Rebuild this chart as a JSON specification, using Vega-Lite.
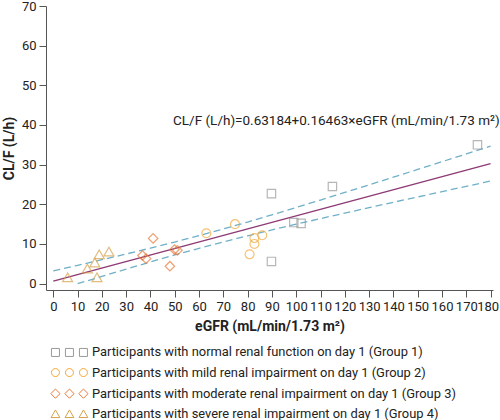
{
  "$schema": "https://vega.github.io/schema/vega-lite/v6.json",
  "autosize": {"type": "none"},
  "padding": {"left": 46, "top": 6, "right": 7, "bottom": 130},
  "width": 447,
  "height": 284,
  "background": "white",
  "config": {
    "font": "Roboto",
    "view": {"stroke": null},
    "axis": {
      "grid": false,
      "domainColor": "#555555",
      "tickColor": "#555555",
      "labelColor": "#222222",
      "titleColor": "#222222",
      "labelFontSize": 13,
      "titleFontSize": 14,
      "titleFontWeight": "bold",
      "tickSize": 7,
      "labelPadding": 3
    }
  },
  "datasets": {
    "points": [
      {"group": "Participants with normal renal function on day 1 (Group 1)", "egfr": 89.8, "clf": 22.7},
      {"group": "Participants with normal renal function on day 1 (Group 1)", "egfr": 89.8, "clf": 5.6},
      {"group": "Participants with normal renal function on day 1 (Group 1)", "egfr": 99.0, "clf": 15.4},
      {"group": "Participants with normal renal function on day 1 (Group 1)", "egfr": 102.0, "clf": 15.2},
      {"group": "Participants with normal renal function on day 1 (Group 1)", "egfr": 114.9, "clf": 24.5},
      {"group": "Participants with normal renal function on day 1 (Group 1)", "egfr": 174.6, "clf": 35.0},
      {"group": "Participants with mild renal impairment on day 1 (Group 2)", "egfr": 63.0, "clf": 12.7},
      {"group": "Participants with mild renal impairment on day 1 (Group 2)", "egfr": 74.8, "clf": 15.0},
      {"group": "Participants with mild renal impairment on day 1 (Group 2)", "egfr": 82.8, "clf": 11.5},
      {"group": "Participants with mild renal impairment on day 1 (Group 2)", "egfr": 86.0, "clf": 12.2},
      {"group": "Participants with mild renal impairment on day 1 (Group 2)", "egfr": 82.8, "clf": 10.0},
      {"group": "Participants with mild renal impairment on day 1 (Group 2)", "egfr": 80.8, "clf": 7.4},
      {"group": "Participants with moderate renal impairment on day 1 (Group 3)", "egfr": 36.7, "clf": 7.1},
      {"group": "Participants with moderate renal impairment on day 1 (Group 3)", "egfr": 38.2, "clf": 6.3},
      {"group": "Participants with moderate renal impairment on day 1 (Group 3)", "egfr": 41.1, "clf": 11.4},
      {"group": "Participants with moderate renal impairment on day 1 (Group 3)", "egfr": 48.0, "clf": 4.4},
      {"group": "Participants with moderate renal impairment on day 1 (Group 3)", "egfr": 49.9, "clf": 8.6},
      {"group": "Participants with moderate renal impairment on day 1 (Group 3)", "egfr": 51.1, "clf": 8.4},
      {"group": "Participants with severe renal impairment on day 1 (Group 4)", "egfr": 5.9, "clf": 1.6},
      {"group": "Participants with severe renal impairment on day 1 (Group 4)", "egfr": 14.0, "clf": 3.8},
      {"group": "Participants with severe renal impairment on day 1 (Group 4)", "egfr": 17.1, "clf": 5.3},
      {"group": "Participants with severe renal impairment on day 1 (Group 4)", "egfr": 18.9, "clf": 7.4},
      {"group": "Participants with severe renal impairment on day 1 (Group 4)", "egfr": 22.9, "clf": 8.1},
      {"group": "Participants with severe renal impairment on day 1 (Group 4)", "egfr": 18.0, "clf": 1.6}
    ],
    "fit": [
      {"egfr": 0, "clf": 0.632},
      {"egfr": 180, "clf": 30.266}
    ],
    "bands": [
      {"band": "upper", "egfr": 0, "clf": 3.23},
      {"band": "upper", "egfr": 10, "clf": 4.62},
      {"band": "upper", "egfr": 20, "clf": 6.03},
      {"band": "upper", "egfr": 30, "clf": 7.47},
      {"band": "upper", "egfr": 40, "clf": 8.96},
      {"band": "upper", "egfr": 50, "clf": 10.50},
      {"band": "upper", "egfr": 60, "clf": 12.11},
      {"band": "upper", "egfr": 70, "clf": 13.79},
      {"band": "upper", "egfr": 80, "clf": 15.54},
      {"band": "upper", "egfr": 90, "clf": 17.35},
      {"band": "upper", "egfr": 100, "clf": 19.20},
      {"band": "upper", "egfr": 110, "clf": 21.08},
      {"band": "upper", "egfr": 120, "clf": 22.99},
      {"band": "upper", "egfr": 130, "clf": 24.91},
      {"band": "upper", "egfr": 140, "clf": 26.85},
      {"band": "upper", "egfr": 150, "clf": 28.79},
      {"band": "upper", "egfr": 160, "clf": 30.75},
      {"band": "upper", "egfr": 170, "clf": 32.70},
      {"band": "upper", "egfr": 180, "clf": 34.67},
      {"band": "lower", "egfr": 10, "clf": 0.0},
      {"band": "lower", "egfr": 20, "clf": 1.82},
      {"band": "lower", "egfr": 30, "clf": 3.67},
      {"band": "lower", "egfr": 40, "clf": 5.48},
      {"band": "lower", "egfr": 50, "clf": 7.23},
      {"band": "lower", "egfr": 60, "clf": 8.91},
      {"band": "lower", "egfr": 70, "clf": 10.52},
      {"band": "lower", "egfr": 80, "clf": 12.06},
      {"band": "lower", "egfr": 90, "clf": 13.55},
      {"band": "lower", "egfr": 100, "clf": 14.99},
      {"band": "lower", "egfr": 110, "clf": 16.40},
      {"band": "lower", "egfr": 120, "clf": 17.79},
      {"band": "lower", "egfr": 130, "clf": 19.16},
      {"band": "lower", "egfr": 140, "clf": 20.51},
      {"band": "lower", "egfr": 150, "clf": 21.86},
      {"band": "lower", "egfr": 160, "clf": 23.20},
      {"band": "lower", "egfr": 170, "clf": 24.54},
      {"band": "lower", "egfr": 180, "clf": 25.87}
    ],
    "note": [
      {"egfr": 49.3, "clf": 41.0, "label": "CL/F (L/h)=0.63184+0.16463×eGFR (mL/min/1.73 m²)"}
    ]
  },
  "encoding": {
    "x": {
      "field": "egfr", "type": "quantitative",
      "scale": {"domain": [-3, 181], "nice": false, "zero": false},
      "axis": {"values": [0,10,20,30,40,50,60,70,80,90,100,110,120,130,140,150,160,170,180], "title": "eGFR (mL/min/1.73 m²)", "titlePadding": 6, "labelOverlap": false, "labelFlush": 5, "labelFlushOffset": 8}
    },
    "y": {
      "field": "clf", "type": "quantitative",
      "scale": {"domain": [-1.6, 70], "nice": false, "zero": false},
      "axis": {"values": [0,10,20,30,40,50,60,70], "title": "CL/F (L/h)", "titlePadding": 5}
    }
  },
  "layer": [
    {
      "data": {"name": "bands"},
      "mark": {"type": "line", "color": "#6fb0c8", "strokeWidth": 1.3, "strokeDash": [7, 4]},
      "encoding": {"detail": {"field": "band"}}
    },
    {
      "data": {"name": "fit"},
      "mark": {"type": "line", "color": "#8e3a74", "strokeWidth": 1.5},
      "encoding": {}
    },
    {
      "data": {"name": "note"},
      "mark": {"type": "text", "align": "left", "baseline": "middle", "fontSize": 13.5, "color": "#222222"},
      "encoding": {"text": {"field": "label"}}
    },
    {
      "data": {"name": "points"},
      "mark": {"type": "point", "filled": false, "strokeWidth": 1.2},
      "encoding": {
        "shape": {
          "field": "group", "type": "nominal",
          "scale": {
            "domain": [
              "Participants with normal renal function on day 1 (Group 1)",
              "Participants with mild renal impairment on day 1 (Group 2)",
              "Participants with moderate renal impairment on day 1 (Group 3)",
              "Participants with severe renal impairment on day 1 (Group 4)"
            ],
            "range": ["square", "circle", "diamond", "triangle-up"]
          },
          "legend": null
        },
        "color": {
          "field": "group", "type": "nominal",
          "scale": {
            "domain": [
              "Participants with normal renal function on day 1 (Group 1)",
              "Participants with mild renal impairment on day 1 (Group 2)",
              "Participants with moderate renal impairment on day 1 (Group 3)",
              "Participants with severe renal impairment on day 1 (Group 4)"
            ],
            "range": ["#999999", "#f2a93b", "#e67a3a", "#d6a24a"]
          },
          "legend": null
        },
        "size": {
          "field": "group", "type": "nominal",
          "scale": {
            "domain": [
              "Participants with normal renal function on day 1 (Group 1)",
              "Participants with mild renal impairment on day 1 (Group 2)",
              "Participants with moderate renal impairment on day 1 (Group 3)",
              "Participants with severe renal impairment on day 1 (Group 4)"
            ],
            "range": [70, 100, 120, 130]
          },
          "legend": null
        }
      }
    },
    {
      "data": {"name": "points"},
      "mark": {"type": "point", "filled": false, "opacity": 0},
      "encoding": {
        "shape": {
          "field": "group", "type": "nominal",
          "scale": {
            "domain": [
              "Participants with normal renal function on day 1 (Group 1)",
              "Participants with mild renal impairment on day 1 (Group 2)",
              "Participants with moderate renal impairment on day 1 (Group 3)",
              "Participants with severe renal impairment on day 1 (Group 4)"
            ],
            "range": [
              "M-4.5,-1H-2.5V1H-4.5Z M-1,-1H1V1H-1Z M2.5,-1H4.5V1H2.5Z",
              "M-2.5,0A1,1 0 1,1 -4.5,0A1,1 0 1,1 -2.5,0Z M1,0A1,1 0 1,1 -1,0A1,1 0 1,1 1,0Z M4.5,0A1,1 0 1,1 2.5,0A1,1 0 1,1 4.5,0Z",
              "M-4.65,0L-3.5,-1.15L-2.35,0L-3.5,1.15Z M-1.15,0L0,-1.15L1.15,0L0,1.15Z M2.35,0L3.5,-1.15L4.65,0L3.5,1.15Z",
              "M-3.5,-0.95L-2.4,0.95L-4.6,0.95Z M0,-0.95L1.1,0.95L-1.1,0.95Z M3.5,-0.95L4.6,0.95L2.4,0.95Z"
            ]
          },
          "legend": {
            "title": null,
            "orient": "none",
            "legendX": 17,
            "legendY": 340,
            "symbolSize": 64,
            "symbolStrokeWidth": 1,
            "symbolOpacity": 1,
            "labelFontSize": 12.9,
            "labelColor": "#222222",
            "labelOffset": 16,
            "rowPadding": 6.1,
            "labelLimit": 0
          }
        },
        "color": {
          "field": "group", "type": "nominal",
          "scale": {
            "domain": [
              "Participants with normal renal function on day 1 (Group 1)",
              "Participants with mild renal impairment on day 1 (Group 2)",
              "Participants with moderate renal impairment on day 1 (Group 3)",
              "Participants with severe renal impairment on day 1 (Group 4)"
            ],
            "range": ["#999999", "#f2a93b", "#e67a3a", "#d6a24a"]
          },
          "legend": {
            "title": null,
            "orient": "none",
            "legendX": 17,
            "legendY": 340,
            "symbolSize": 64,
            "symbolStrokeWidth": 1,
            "symbolOpacity": 1,
            "labelFontSize": 12.9,
            "labelColor": "#222222",
            "labelOffset": 16,
            "rowPadding": 6.1,
            "labelLimit": 0
          }
        }
      }
    }
  ],
  "resolve": {"scale": {"shape": "independent", "color": "independent", "size": "independent"}, "legend": {"shape": "independent", "color": "independent"}}
}
